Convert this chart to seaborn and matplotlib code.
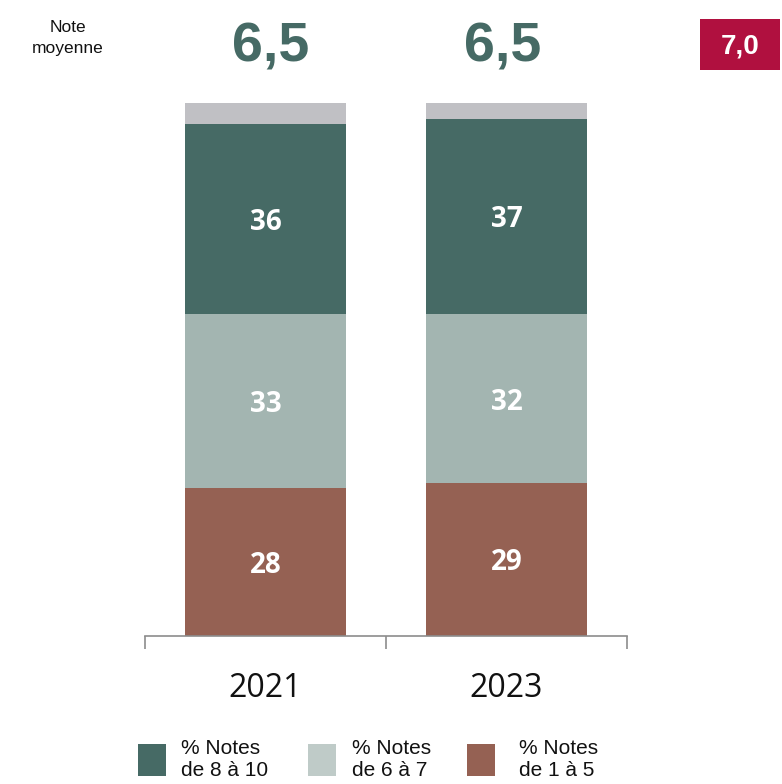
import matplotlib
matplotlib.use("Agg")
import matplotlib.pyplot as plt
import seaborn as sns
import pandas as pd
import numpy as np
from matplotlib.patches import Rectangle

years = ["2021", "2023"]
notes_1_5 = [28, 29]
notes_6_7 = [33, 32]
notes_8_10 = [36, 37]
nsp = [4, 3]
moyenne = ["6,5", "6,5"]
reference_note = "7,0"
legend_labels = ["% Notes\nde 8 à 10", "% Notes\nde 6 à 7", "% Notes\nde 1 à 5"]

c_high = "#466A65"
c_mid = "#A3B5B1"
c_mid_leg = "#BFCBC8"
c_low = "#956153"
c_nsp = "#C0C0C4"
c_ref = "#B0103F"

sns.set_theme(style="white")
plt.rcParams['font.family'] = ['Liberation Sans', 'DejaVu Sans']

fig = plt.figure(figsize=(7.82, 7.84), dpi=100)
ax = fig.add_axes([145/782, 148/784, 482/782, 533/784])

low = np.array(notes_1_5)
mid = np.array(notes_6_7)
high = np.array(notes_8_10)
rest = np.array(nsp)
cum_low = low
cum_mid = low + mid
cum_high = cum_mid + high
cum_all = cum_high + rest

layers = [(cum_all, c_nsp), (cum_high, c_high), (cum_mid, c_mid), (cum_low, c_low)]
for vals, col in layers:
    df = pd.DataFrame({"year": years, "v": vals})
    sns.barplot(data=df, x="year", y="v", color=col, width=0.667, ax=ax,
                saturation=1, linewidth=0, errorbar=None)

ax.set_ylim(0, 101)
ax.set_xlim(-0.5, 1.5)
ax.set_xlabel("")
ax.set_ylabel("")
ax.set_yticks([])
for s in ["top", "right", "left"]:
    ax.spines[s].set_visible(False)
ax.spines["bottom"].set_color("#8C8C8C")
ax.spines["bottom"].set_linewidth(1.2)
ax.set_xticks([0, 1])
ax.set_xticklabels(years, fontsize=23, family=['Open Sans', 'DejaVu Sans'], color="#111111")
ax.tick_params(axis="x", which="major", length=0, pad=26)
ax.set_xticks([-0.5, 0.5, 1.5], minor=True)
ax.tick_params(axis="x", which="minor", length=9, width=1.2, color="#8C8C8C", bottom=True)

bold = dict(color="white", fontsize=20, fontweight="bold", ha="center", va="center_baseline",
            family=['Open Sans', 'DejaVu Sans'])
for i in range(len(years)):
    ax.text(i, low[i] / 2, str(low[i]), **bold)
    ax.text(i, cum_low[i] + mid[i] / 2, str(mid[i]), **bold)
    ax.text(i, cum_mid[i] + high[i] / 2, str(high[i]), **bold)

# Header: average notes
fig.text(68/782, 1 - 38/784, "Note\nmoyenne", ha="center", va="center", fontsize=12.5,
         color="#111111", linespacing=1.45)
xs = [271, 503]
for x, m in zip(xs, moyenne):
    fig.text(x/782, 1 - 47/784, m, ha="center", va="center", fontsize=40,
             fontweight="bold", color=c_high)
fig.patches.append(Rectangle((700/782, 1 - 70/784), 80/782, 51/784, transform=fig.transFigure,
                             facecolor=c_ref, edgecolor="none"))
fig.text(740/782, 1 - 46/784, reference_note, ha="center", va="center", fontsize=20,
         fontweight="bold", color="white")

# Legend
leg_cols = [c_high, c_mid_leg, c_low]
sq_x = [138, 308, 467]
tx_x = [181, 352, 519]
for sx, tx, col, lab in zip(sq_x, tx_x, leg_cols, legend_labels):
    fig.patches.append(Rectangle((sx/782, 1 - 776/784), 28/782, 32/784, transform=fig.transFigure,
                                 facecolor=col, edgecolor="none"))
    fig.text(tx/782, 1 - 760/784, lab, ha="left", va="center", fontsize=15,
             color="#111111", linespacing=1.2)

fig.savefig("out.png", dpi=100)
